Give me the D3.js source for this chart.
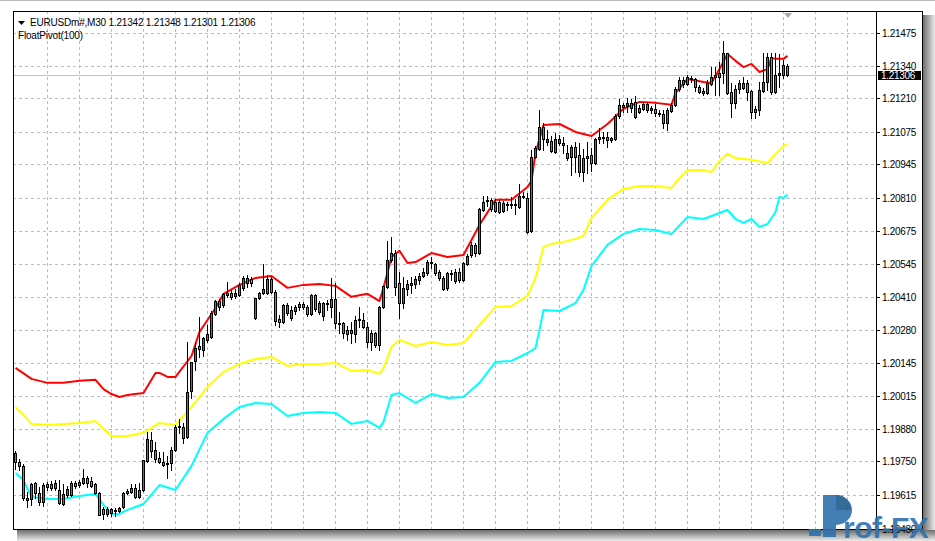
<!DOCTYPE html>
<html><head><meta charset="utf-8">
<script src="https://cdn.jsdelivr.net/npm/d3@7"></script>
<style>html,body{margin:0;padding:0;background:#fff}svg{display:block}</style>
</head><body><svg id="chart" width="935" height="541"></svg>
<script>
const symbolTitle = "EURUSDm#,M30";
const lastQuote = ["1.21342", "1.21348", "1.21301", "1.21306"];
const indicatorName = "FloatPivot(100)";
const priceTicks = [1.21475,1.21340,1.21210,1.21075,1.20945,1.20810,1.20675,1.20545,1.20410,1.20280,1.20145,1.20015,1.19880,1.19750,1.19615,1.19480];
const gridEvery = 8; // bars between vertical grid lines
// OHLC per M30 bar: [open, high, low, close]
const candles = [
[1.19784,1.19792,1.19720,1.19748],[1.19748,1.19760,1.19716,1.19732],[1.19732,1.19740,1.19595,1.19603],[1.19603,1.19627,1.19567,1.19595],
[1.19599,1.19663,1.19575,1.19659],[1.19663,1.19667,1.19603,1.19623],[1.19623,1.19647,1.19575,1.19587],[1.19587,1.19663,1.19571,1.19655],
[1.19647,1.19667,1.19635,1.19659],[1.19659,1.19671,1.19635,1.19643],[1.19643,1.19675,1.19635,1.19663],[1.19635,1.19675,1.19579,1.19583],
[1.19579,1.19659,1.19575,1.19619],[1.19615,1.19651,1.19607,1.19639],[1.19615,1.19671,1.19611,1.19663],[1.19663,1.19671,1.19643,1.19651],
[1.19655,1.19675,1.19647,1.19667],[1.19663,1.19720,1.19659,1.19684],[1.19684,1.19692,1.19647,1.19663],[1.19671,1.19688,1.19647,1.19651],
[1.19659,1.19663,1.19619,1.19623],[1.19623,1.19627,1.19535,1.19535],[1.19559,1.19567,1.19519,1.19539],[1.19539,1.19567,1.19531,1.19559],
[1.19543,1.19563,1.19531,1.19559],[1.19551,1.19563,1.19531,1.19555],[1.19551,1.19567,1.19547,1.19563],[1.19567,1.19627,1.19563,1.19623],
[1.19623,1.19639,1.19619,1.19631],[1.19627,1.19659,1.19623,1.19643],[1.19643,1.19659,1.19603,1.19607],[1.19607,1.19663,1.19603,1.19635],
[1.19635,1.19756,1.19631,1.19756],[1.19752,1.19869,1.19748,1.19840],[1.19836,1.19869,1.19768,1.19792],[1.19796,1.19828,1.19748,1.19760],
[1.19764,1.19788,1.19744,1.19748],[1.19748,1.19788,1.19732,1.19736],[1.19744,1.19772,1.19684,1.19740],[1.19744,1.19808,1.19716,1.19796],
[1.19796,1.19897,1.19792,1.19889],[1.19889,1.19921,1.19865,1.19893],[1.19889,1.19905,1.19824,1.19844],[1.19848,1.20230,1.19844,1.20029],
[1.20033,1.20150,1.20005,1.20150],[1.20154,1.20226,1.20118,1.20206],[1.20214,1.20331,1.20170,1.20202],[1.20198,1.20251,1.20174,1.20247],
[1.20239,1.20299,1.20230,1.20263],[1.20251,1.20355,1.20247,1.20347],[1.20343,1.20399,1.20339,1.20395],[1.20395,1.20403,1.20359,1.20371],
[1.20379,1.20428,1.20371,1.20424],[1.20420,1.20472,1.20412,1.20428],[1.20428,1.20440,1.20403,1.20412],[1.20416,1.20444,1.20407,1.20428],
[1.20420,1.20468,1.20416,1.20460],[1.20448,1.20496,1.20440,1.20488],[1.20468,1.20500,1.20452,1.20488],[1.20484,1.20492,1.20456,1.20468],
[1.20327,1.20407,1.20323,1.20407],[1.20407,1.20432,1.20403,1.20428],[1.20428,1.20544,1.20424,1.20444],[1.20428,1.20500,1.20424,1.20484],
[1.20484,1.20492,1.20428,1.20432],[1.20432,1.20440,1.20299,1.20315],[1.20323,1.20339,1.20291,1.20311],[1.20311,1.20383,1.20307,1.20379],
[1.20347,1.20387,1.20339,1.20379],[1.20327,1.20375,1.20319,1.20359],[1.20355,1.20379,1.20343,1.20371],[1.20371,1.20391,1.20359,1.20383],
[1.20383,1.20391,1.20363,1.20371],[1.20371,1.20379,1.20335,1.20343],[1.20343,1.20424,1.20339,1.20420],[1.20420,1.20424,1.20355,1.20363],
[1.20351,1.20395,1.20343,1.20387],[1.20335,1.20391,1.20319,1.20387],[1.20383,1.20399,1.20359,1.20387],[1.20371,1.20488,1.20331,1.20403],
[1.20403,1.20468,1.20287,1.20307],[1.20307,1.20351,1.20267,1.20303],[1.20307,1.20311,1.20247,1.20267],[1.20279,1.20295,1.20239,1.20263],
[1.20267,1.20311,1.20226,1.20279],[1.20263,1.20335,1.20230,1.20319],[1.20319,1.20371,1.20291,1.20323],[1.20319,1.20347,1.20287,1.20291],
[1.20291,1.20311,1.20210,1.20230],[1.20267,1.20279,1.20198,1.20230],[1.20267,1.20271,1.20210,1.20218],[1.20218,1.20375,1.20198,1.20371],
[1.20371,1.20456,1.20367,1.20456],[1.20452,1.20637,1.20448,1.20560],[1.20560,1.20653,1.20552,1.20588],[1.20588,1.20600,1.20420,1.20452],
[1.20468,1.20512,1.20327,1.20387],[1.20387,1.20492,1.20367,1.20448],[1.20444,1.20480,1.20420,1.20464],[1.20460,1.20492,1.20428,1.20468],
[1.20464,1.20496,1.20448,1.20484],[1.20480,1.20508,1.20464,1.20496],[1.20496,1.20528,1.20492,1.20512],[1.20508,1.20560,1.20500,1.20552],
[1.20548,1.20572,1.20528,1.20552],[1.20544,1.20548,1.20500,1.20508],[1.20512,1.20520,1.20480,1.20488],[1.20488,1.20496,1.20440,1.20444],
[1.20448,1.20512,1.20440,1.20508],[1.20504,1.20520,1.20480,1.20508],[1.20476,1.20524,1.20468,1.20512],[1.20512,1.20528,1.20472,1.20480],
[1.20480,1.20552,1.20476,1.20548],[1.20544,1.20584,1.20540,1.20576],[1.20580,1.20633,1.20572,1.20621],[1.20621,1.20629,1.20576,1.20588],
[1.20588,1.20769,1.20584,1.20765],[1.20761,1.20818,1.20757,1.20794],[1.20798,1.20818,1.20778,1.20802],[1.20802,1.20810,1.20757,1.20765],
[1.20794,1.20806,1.20753,1.20757],[1.20794,1.20802,1.20749,1.20753],[1.20757,1.20798,1.20753,1.20790],[1.20782,1.20794,1.20761,1.20786],
[1.20782,1.20814,1.20769,1.20786],[1.20782,1.20806,1.20745,1.20786],[1.20773,1.20866,1.20769,1.20818],[1.20814,1.20834,1.20810,1.20818],
[1.20810,1.20830,1.20669,1.20673],[1.20677,1.21003,1.20673,1.20975],[1.20975,1.21019,1.20971,1.21011],[1.21007,1.21164,1.21003,1.21095],
[1.21095,1.21111,1.21003,1.21047],[1.21035,1.21083,1.21023,1.21047],[1.21039,1.21059,1.20995,1.20999],[1.20995,1.21071,1.20991,1.21047],
[1.21031,1.21063,1.21023,1.21047],[1.21023,1.21055,1.20991,1.21031],[1.20991,1.21023,1.20963,1.20971],[1.20975,1.21023,1.20902,1.21015],
[1.21015,1.21035,1.20914,1.20975],[1.20983,1.21031,1.20898,1.20914],[1.20914,1.21007,1.20878,1.20971],[1.20971,1.21035,1.20910,1.20979],
[1.20983,1.21011,1.20918,1.20950],[1.20950,1.21051,1.20946,1.21047],[1.21047,1.21091,1.21031,1.21055],[1.21051,1.21075,1.21031,1.21055],
[1.21043,1.21075,1.21015,1.21055],[1.21043,1.21055,1.21035,1.21051],[1.21047,1.21148,1.21043,1.21139],[1.21139,1.21208,1.21131,1.21184],
[1.21176,1.21192,1.21156,1.21184],[1.21180,1.21212,1.21156,1.21192],[1.21172,1.21208,1.21156,1.21192],[1.21196,1.21220,1.21131,1.21135],
[1.21156,1.21184,1.21152,1.21172],[1.21168,1.21196,1.21164,1.21188],[1.21164,1.21196,1.21156,1.21188],[1.21164,1.21180,1.21152,1.21172],
[1.21168,1.21188,1.21139,1.21152],[1.21148,1.21164,1.21139,1.21152],[1.21148,1.21164,1.21091,1.21111],[1.21111,1.21172,1.21083,1.21164],
[1.21160,1.21192,1.21156,1.21184],[1.21184,1.21256,1.21180,1.21248],[1.21248,1.21296,1.21240,1.21284],[1.21268,1.21296,1.21256,1.21284],
[1.21268,1.21304,1.21264,1.21296],[1.21288,1.21300,1.21276,1.21292],[1.21288,1.21292,1.21240,1.21256],[1.21256,1.21264,1.21232,1.21236],
[1.21240,1.21252,1.21224,1.21232],[1.21232,1.21284,1.21228,1.21272],[1.21268,1.21336,1.21264,1.21296],[1.21296,1.21336,1.21224,1.21304],
[1.21296,1.21357,1.21224,1.21312],[1.21312,1.21441,1.21272,1.21393],[1.21393,1.21393,1.21228,1.21232],[1.21236,1.21272,1.21135,1.21192],
[1.21192,1.21264,1.21172,1.21248],[1.21248,1.21284,1.21232,1.21272],[1.21252,1.21296,1.21248,1.21272],[1.21272,1.21284,1.21204,1.21236],
[1.21240,1.21244,1.21131,1.21156],[1.21168,1.21180,1.21131,1.21156],[1.21164,1.21276,1.21144,1.21244],[1.21240,1.21393,1.21236,1.21276],
[1.21276,1.21393,1.21244,1.21377],[1.21377,1.21393,1.21228,1.21236],[1.21236,1.21393,1.21232,1.21304],[1.21304,1.21389,1.21256,1.21312],
[1.21304,1.21365,1.21292,1.21345],[1.21342,1.21348,1.21301,1.21306]
];
// FloatPivot(100) lines: [bar index, price]
const upperLine = [[0,1.20126],[4,1.20082],[8,1.20066],[12,1.20066],[16,1.20074],[20,1.20078],[22,1.20041],[24,1.20021],[26,1.20009],[28,1.20017],[32,1.20025],[35,1.20106],[36,1.20106],[38,1.20090],[40,1.20090],[44,1.20174],[46,1.20271],[48,1.20319],[50,1.20367],[52,1.20424],[56,1.20460],[60,1.20488],[64,1.20496],[68,1.20448],[72,1.20460],[76,1.20464],[80,1.20456],[84,1.20412],[88,1.20424],[91,1.20395],[92,1.20448],[94,1.20572],[96,1.20597],[98,1.20548],[100,1.20552],[104,1.20588],[108,1.20572],[112,1.20580],[116,1.20701],[120,1.20802],[124,1.20802],[128,1.20854],[129,1.20878],[130,1.20991],[132,1.21103],[136,1.21107],[140,1.21075],[144,1.21059],[148,1.21107],[152,1.21168],[156,1.21196],[160,1.21192],[164,1.21184],[165,1.21232],[168,1.21288],[172,1.21276],[174,1.21272],[176,1.21328],[178,1.21389],[180,1.21361],[182,1.21336],[184,1.21349],[186,1.21316],[188,1.21328],[189,1.21373],[190,1.21369],[192,1.21369],[193,1.21381]];
const middleLine = [[0,1.19969],[2,1.19937],[4,1.19901],[8,1.19897],[12,1.19901],[16,1.19905],[20,1.19913],[22,1.19881],[24,1.19852],[28,1.19852],[32,1.19865],[36,1.19905],[40,1.19897],[44,1.19969],[48,1.20050],[52,1.20110],[56,1.20142],[60,1.20162],[64,1.20170],[68,1.20134],[72,1.20142],[76,1.20142],[80,1.20146],[84,1.20114],[88,1.20118],[91,1.20102],[92,1.20126],[94,1.20210],[96,1.20239],[100,1.20214],[104,1.20230],[108,1.20218],[112,1.20226],[116,1.20299],[120,1.20371],[124,1.20375],[128,1.20416],[130,1.20488],[132,1.20613],[134,1.20625],[136,1.20629],[140,1.20645],[142,1.20657],[144,1.20729],[148,1.20802],[152,1.20846],[156,1.20858],[160,1.20858],[164,1.20850],[166,1.20890],[168,1.20922],[172,1.20922],[174,1.20914],[176,1.20959],[178,1.20987],[180,1.20970],[184,1.20963],[188,1.20950],[190,1.20987],[192,1.21019],[193,1.21027]];
const lowerLine = [[0,1.19704],[2,1.19675],[4,1.19607],[8,1.19599],[12,1.19599],[16,1.19611],[20,1.19619],[22,1.19575],[24,1.19539],[26,1.19539],[28,1.19555],[32,1.19579],[36,1.19655],[40,1.19635],[44,1.19732],[48,1.19865],[52,1.19921],[56,1.19969],[60,1.19985],[64,1.19981],[68,1.19933],[72,1.19945],[76,1.19949],[80,1.19945],[84,1.19901],[88,1.19913],[91,1.19885],[92,1.19909],[94,1.20017],[96,1.20025],[100,1.19985],[104,1.20021],[108,1.20005],[112,1.20009],[116,1.20066],[120,1.20150],[124,1.20154],[128,1.20186],[130,1.20206],[131,1.20279],[132,1.20359],[136,1.20355],[140,1.20387],[142,1.20440],[144,1.20536],[148,1.20621],[152,1.20665],[156,1.20685],[160,1.20681],[164,1.20665],[168,1.20733],[172,1.20725],[176,1.20749],[178,1.20761],[180,1.20725],[182,1.20709],[184,1.20725],[186,1.20693],[188,1.20705],[190,1.20753],[191,1.20814],[192,1.20810],[193,1.20822]];

const colors = {bull:"#2b8a78", bear:"#c9685b", upper:"#ff0000", middle:"#ffff00", lower:"#00ffff", grid:"#bcbcbc", priceLine:"#c0c0c0"};

const svg = d3.select("#chart");
const W = 935, H = 541;
const frame = {left:13, top:11, axis:876, right:922, bottom:529};

// window, shadow
const defs = svg.append("defs");
const gR = defs.append("linearGradient").attr("id","shR").attr("x1","0").attr("x2","1").attr("y1","0").attr("y2","0");
gR.append("stop").attr("offset","0").attr("stop-color","#6e6e6e");
gR.append("stop").attr("offset","1").attr("stop-color","#ececec");
const gB = defs.append("linearGradient").attr("id","shB").attr("x1","0").attr("x2","0").attr("y1","0").attr("y2","1");
gB.append("stop").attr("offset","0").attr("stop-color","#6e6e6e");
gB.append("stop").attr("offset","1").attr("stop-color","#ececec");
defs.append("clipPath").attr("id","plotClip").append("rect")
  .attr("x",frame.left+1).attr("y",frame.top+1).attr("width",frame.axis-frame.left-1).attr("height",frame.bottom-frame.top-1);

svg.append("rect").attr("width",W).attr("height",H).attr("fill","#fff");
svg.append("rect").attr("x",frame.right+1).attr("y",frame.top+4).attr("width",W-frame.right-1).attr("height",H-frame.top-4).attr("fill","url(#shR)");
svg.append("rect").attr("x",frame.left+4).attr("y",frame.bottom+1).attr("width",W-frame.left-4).attr("height",H-frame.bottom-1).attr("fill","url(#shB)");
svg.append("line").attr("x1",0).attr("x2",W).attr("y1",0.5).attr("y2",0.5).attr("stroke","#b8b8b8");

const x = d3.scaleLinear().domain([0, candles.length-1]).range([15, 787]);
const y = d3.scaleLinear().domain([priceTicks[14], priceTicks[0]]).range([495, 32.5]);
const px = v => Math.round(x(v)) + 0.5;
const py = v => Math.round(y(v)) + 0.5;

const plot = svg.append("g").attr("clip-path","url(#plotClip)");

// grid
const vIdx = d3.range(gridEvery, 220, gridEvery).filter(i => x(i) < frame.axis - 2);
plot.selectAll("line.vg").data(vIdx).join("line").attr("class","vg")
  .attr("x1",d=>px(d)).attr("x2",d=>px(d)).attr("y1",frame.top).attr("y2",frame.bottom)
  .attr("stroke",colors.grid).attr("stroke-dasharray","3,3").attr("shape-rendering","crispEdges");
plot.selectAll("line.hg").data(priceTicks).join("line").attr("class","hg")
  .attr("x1",frame.left).attr("x2",frame.axis).attr("y1",d=>py(d)).attr("y2",d=>py(d))
  .attr("stroke",colors.grid).attr("stroke-dasharray","3,3").attr("shape-rendering","crispEdges");

// current price line
const lastClose = candles[candles.length-1][3];
plot.append("line").attr("x1",frame.left).attr("x2",frame.axis).attr("y1",py(lastClose)).attr("y2",py(lastClose))
  .attr("stroke",colors.priceLine).attr("shape-rendering","crispEdges");

// indicator lines
const lineGen = d3.line().x(d=>x(d[0])+0.5).y(d=>y(d[1]));
[[upperLine,colors.upper],[middleLine,colors.middle],[lowerLine,colors.lower]].forEach(([data,c])=>{
  plot.append("path").attr("d",lineGen(data)).attr("fill","none").attr("stroke",c).attr("stroke-width",2).attr("stroke-linejoin","round");
});

// candles
const cg = plot.selectAll("g.c").data(candles).join("g").attr("class","c");
cg.append("line").attr("x1",(d,i)=>px(i)).attr("x2",(d,i)=>px(i))
  .attr("y1",d=>Math.round(y(d[1]))).attr("y2",d=>Math.round(y(d[2]))+1)
  .attr("stroke","#000").attr("shape-rendering","crispEdges");
cg.append("rect")
  .attr("x",(d,i)=>px(i)-1).attr("width",2)
  .attr("y",d=>Math.round(y(Math.max(d[0],d[3])))+0.5)
  .attr("height",d=>Math.max(1,Math.round(y(Math.min(d[0],d[3])))-Math.round(y(Math.max(d[0],d[3])))))
  .attr("fill",d=>d[3]>=d[0]?colors.bull:colors.bear)
  .attr("stroke","#000").attr("stroke-width",1);

// shift marker
const shiftX = x(candles.length-1) + 1;
svg.append("path").attr("d",`M${shiftX-4},${frame.top+2}L${shiftX+4},${frame.top+2}L${shiftX},${frame.top+7}Z`).attr("fill","#a8a8a8");

// frame lines
svg.append("rect").attr("x",frame.left+0.5).attr("y",frame.top+0.5).attr("width",frame.right-frame.left).attr("height",frame.bottom-frame.top)
  .attr("fill","none").attr("stroke","#000");
svg.append("line").attr("x1",frame.axis+0.5).attr("x2",frame.axis+0.5).attr("y1",frame.top).attr("y2",frame.bottom+1).attr("stroke","#000");

// price axis
const font = "'Liberation Sans', Arial, sans-serif";
const ax = svg.append("g");
ax.selectAll("line").data(priceTicks).join("line")
  .attr("x1",frame.axis+1).attr("x2",frame.axis+4).attr("y1",d=>py(d)).attr("y2",d=>py(d)).attr("stroke","#000");
ax.selectAll("text").data(priceTicks).join("text")
  .attr("x",frame.axis+6).attr("y",d=>py(d)+3.5)
  .attr("font-family",font).attr("font-size","10px").attr("letter-spacing","-0.3px").attr("fill","#000")
  .text(d=>d3.format(".5f")(d));
// last price label
const ly = py(lastClose);
svg.append("rect").attr("x",frame.axis+2).attr("y",ly-4.5).attr("width",43).attr("height",9).attr("fill","#000");
svg.append("text").attr("x",frame.axis+5).attr("y",ly+3.5).attr("font-family",font).attr("font-size","10px").attr("letter-spacing","-0.3px")
  .attr("fill","#fff").text(d3.format(".5f")(lastClose));

// header
svg.append("path").attr("d","M18,21L25,21L21.5,25Z").attr("fill","#000");
svg.append("text").attr("x",30).attr("y",26).attr("font-family",font).attr("font-size","10px").attr("letter-spacing","-0.2px").attr("fill","#000")
  .text(symbolTitle + "  " + lastQuote.join(" "));
svg.append("text").attr("x",18).attr("y",39).attr("font-family",font).attr("font-size","10px").attr("letter-spacing","-0.2px").attr("fill","#000")
  .text(indicatorName);

// watermark
const wm = svg.append("g").attr("opacity",0.9);
wm.append("rect").attr("x",809).attr("y",529).attr("width",12).attr("height",7).attr("fill","#2f72ad");
wm.append("rect").attr("x",823).attr("y",495).attr("width",13).attr("height",42).attr("fill","#2f72ad");
wm.append("path").attr("d","M836,495 A16,15 0 0 1 836,525 Z").attr("fill","#2f72ad");
wm.append("path").attr("d","M836,510 L836,495 A15,15 0 0 1 851,510 Z").attr("fill","#215a8c");
wm.append("text").attr("x",843).attr("y",538).attr("font-family",font).attr("font-weight","bold").attr("font-size","30px")
  .attr("letter-spacing","-0.5px").attr("fill","#2f72ad").text("rof-FX");
</script></body></html>
